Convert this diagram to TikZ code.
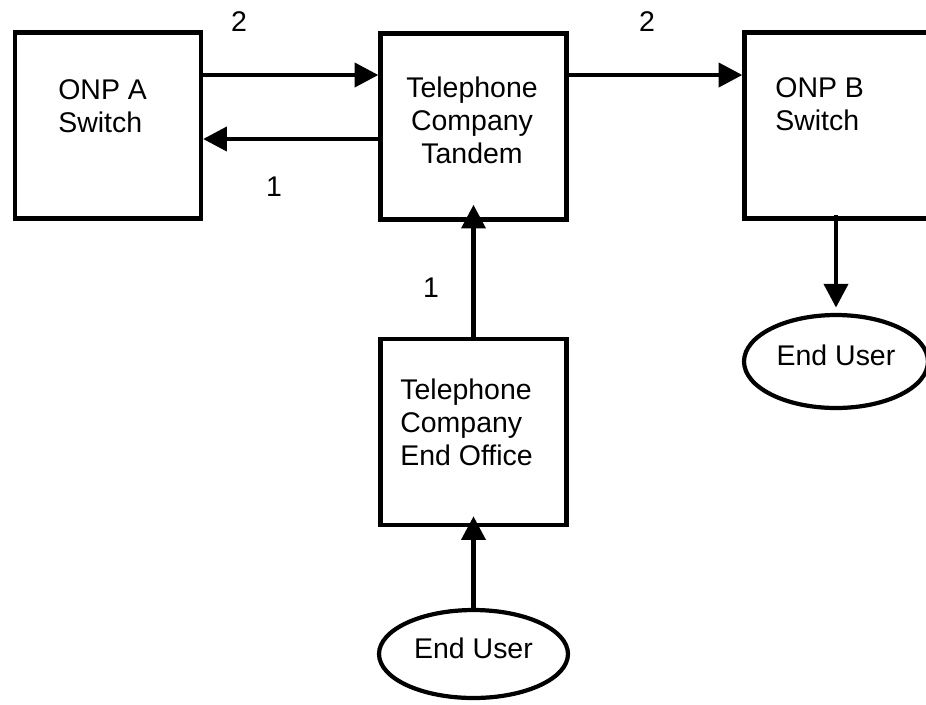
\documentclass[tikz,border=0pt]{standalone}
\usepackage{fontspec}
\setmainfont{Liberation Sans}
\usetikzlibrary{arrows.meta,shapes.geometric,positioning}

\begin{document}
\begin{tikzpicture}[x=0.02cm,y=-0.02cm,
	box/.style={draw,line width=2.4pt,minimum width=3.72cm,minimum height=3.72cm,inner sep=0pt},
	txt/.style={font=\fontsize{16.2}{18.7}\selectfont,inner sep=0pt},
	user/.style={draw,ellipse,line width=2.4pt,inner sep=0pt,txt,text height=11.6pt,text depth=6.8pt},
	arr/.style={-{Triangle[length=13.5pt,width=13.5pt]},line width=2.6pt}]
	\useasboundingbox (0,0) rectangle (926,704);
	\clip (0,0) rectangle (926,704);
	% switches and offices
	\node[box] (onpa) at (108,125.5) {};
	\node[box] (tdm) at (473.5,126.5) {};
	\node[box] (onpb) at (837.5,125.5) {};
	\node[box] (eo) at (473.5,432) {};
	\node[txt,align=left,anchor=west] (onpa-t) at (58,106) {ONP A\\Switch};
	\node[txt,align=center] (tdm-t) at (472,120) {Telephone\\Company\\Tandem};
	\node[txt,align=left,anchor=west] (onpb-t) at (775,104) {ONP B\\Switch};
	\node[txt,align=left,anchor=west] (eo-t) at (400,422) {Telephone\\Company\\End Office};
	% end users
	\node[user,minimum width=3.78cm,minimum height=1.76cm] (eub) at (473.5,654) {End User};
	\node[user,minimum width=3.68cm,minimum height=1.86cm] (eur) at (836,361.5) {End User};
	% trunks
	\draw[arr] (onpa.east |- 0,75) -- (tdm.west |- 0,75);
	\draw[arr] (tdm.west |- 0,139) -- (onpa.east |- 0,139);
	\draw[arr] (tdm.east |- 0,75) -- (onpb.west |- 0,75);
	\draw[arr,shorten >=-9.6pt] (eo.north) -- (tdm.south);
	\draw[arr,shorten >=-6.2pt] (eub.north) -- (eo.south);
	\draw[arr,shorten <=-3pt,shorten >=3pt] (onpb.south -| eur.north) -- (eur.north);
	% labels
	\node[txt] (n2a) at (239,22) {2};
	\node[txt] (n1a) at (274,187) {1};
	\node[txt] (n2b) at (647,22) {2};
	\node[txt] (n1b) at (431,288) {1};
\end{tikzpicture}
\end{document}
